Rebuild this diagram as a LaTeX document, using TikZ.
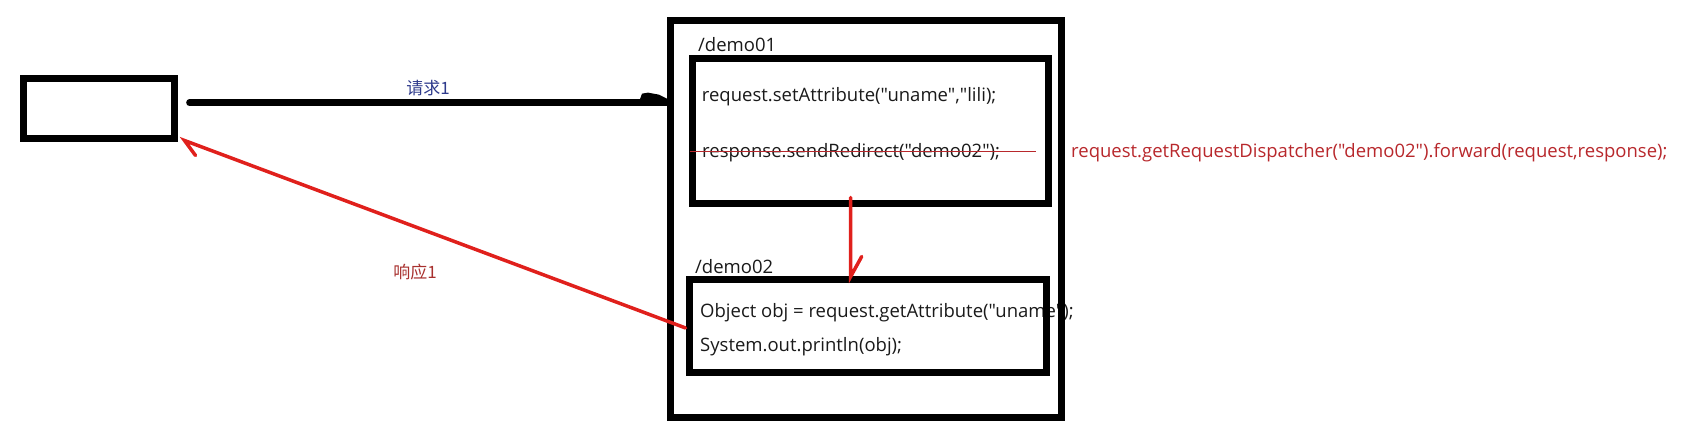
\documentclass[tikz,border=0pt]{standalone}
\usepackage{fontspec}
\setmainfont{Open Sans}[Ligatures=TeXOff]
\newfontfamily\cjk{Noto Sans CJK SC}
\usetikzlibrary{calc}
\definecolor{inkred}{HTML}{E0201C}
\definecolor{textred}{HTML}{B8282C}
\definecolor{labelred}{HTML}{A8302E}
\definecolor{labelblue}{HTML}{2E3A8C}
\definecolor{ink}{HTML}{1A1A1A}
\begin{document}
\begin{tikzpicture}[x=1pt,y=-1pt,
  box/.style={draw=black,line width=7pt,inner sep=0pt,rectangle},
  code/.style={anchor=base west,inner sep=0pt,font=\fontsize{18.5}{21}\selectfont,text=ink},
  redcode/.style={code,text=textred},
  lbl/.style={inner sep=0pt,font=\cjk\fontsize{17}{19}\selectfont},
  redline/.style={draw=inkred,line width=3.5pt,line cap=round}]
\useasboundingbox (0,0) rectangle (1694,438);
% texts (drawn first so that box edges lie over them)
\node[code] (t1) at (698,51.7) {/demo01};
\node[code] (t2) at (701.7,101.7) {request.setAttribute("uname","lili);};
\node[code] (t3) at (702,158) {response.sendRedirect("demo02");};
\node[redcode] (t4) at (1071,158) {request.getRequestDispatcher("demo02").forward(request,response);};
\node[code] (t5) at (695,273) {/demo02};
\node[code] (t6) at (700,317.5) {Object obj = request.getAttribute("uname");};
\node[code] (t7) at (700,351.7) {System.out.println(obj);};
% boxes
\node[box,minimum width=150.3pt,minimum height=60.3pt] (client) at (98.85,108.85) {};
\node[box,minimum width=391pt,minimum height=396pt] (server) at (866,219) {};
\node[box,minimum width=356pt,minimum height=145pt] (demo1) at (870,131.5) {};
\node[box,minimum width=357pt,minimum height=92.5pt] (demo2) at (867.5,326.25) {};
% strike-through
\draw[draw=textred,line width=1.5pt] ([xshift=1pt,yshift=6.3pt]demo1.west |- t3.base) -- ([xshift=-16pt,yshift=6.3pt]demo1.east |- t3.base);
% request arrow
\coordinate (reqS) at ([xshift=12pt,yshift=6.2pt]client.east);
\coordinate (reqE) at (reqS -| server.west);
\draw[line width=6.7pt,line cap=round] (reqS) -- ([xshift=-3pt]reqE);
\fill ($(reqE)+(-27,-3.5)$) -- ($(reqE)+(-25,-9)$) -- ($(reqE)+(-19,-10)$) -- ($(reqE)+(-8,-8)$) -- ($(reqE)+(0,-4)$) -- ($(reqE)+(0,3.3)$) -- ($(reqE)+(-27,3.3)$) -- cycle;
\node[lbl,text=labelblue] (req) at (428,88) {请求1};
% forward arrow
\coordinate (fwS) at ([xshift=-19.3pt,yshift=10pt]demo1.south);
\coordinate (fwE) at (fwS |- demo2.north);
\draw[redline] (fwS) -- (fwE) -- ++(11,-20);
% response arrow
\coordinate (rsS) at ([yshift=-1.7pt]demo2.west);
\coordinate (rsE) at ([xshift=7pt,yshift=2pt]client.south east);
\draw[redline] (rsS) -- (rsE) -- ++(11,15);
\node[lbl,text=labelred] (resp) at (415,272) {响应1};
\end{tikzpicture}
\end{document}
